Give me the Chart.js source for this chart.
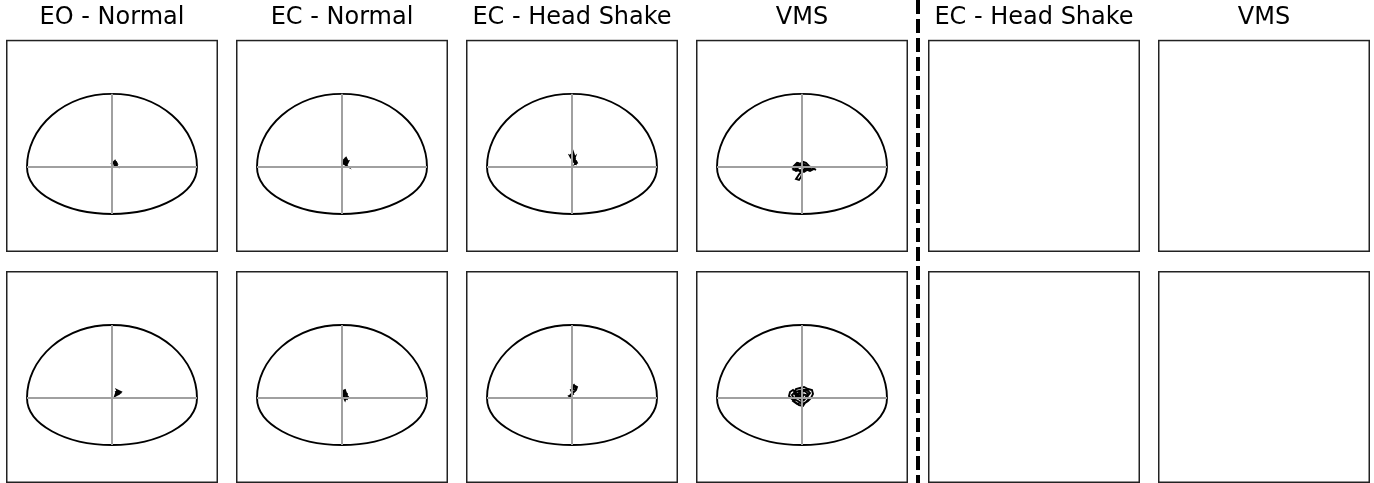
<!DOCTYPE html>
<html>
<head>
<meta charset="utf-8">
<script src="https://cdn.jsdelivr.net/npm/chart.js@4/dist/chart.umd.min.js"></script>
<style>
  body { margin: 0; background: #fff; width: 1374px; height: 483px; position: relative; overflow: hidden; }
  .panel { position: absolute; }
  #sep {
    position: absolute; left: 916px; top: 0; width: 4px; height: 483px;
    background: repeating-linear-gradient(to bottom, #000 0 14px, transparent 14px 19px);
  }
</style>
</head>
<body>
<div id="sep"></div>
<script>
// Títulos de cada columna
const titles = ['EO - Normal', 'EC - Normal', 'EC - Head Shake', 'VMS', 'EC - Head Shake', 'VMS'];

// Límite de estabilidad: [medio ancho, alcance adelante, alcance atrás]
const limits = [85, 73, 47];

// Trayectorias del centro de presión, fila superior
const eoNormalTop = [[2,2],[3,4],[4,3],[3,5],[2,4],[3,2],[4,4],[3,6],[2,5],[4,5],[5,3],[3,3],[2,3],[4,2],[3,1],[2,2]];
const ecNormalTop = [[3,2],[4,5],[2,6],[3,8],[5,7],[4,9],[2,7],[4,4],[6,5],[5,3],[3,4],[2,3],[4,2],[5,5],[3,6],[1,5],[3,3],[5,1],[3,2]];
const ecHeadShakeTop = [[0,13],[1,15],[2,12],[0,10],[-2,11],[-1,9],[1,8],[3,10],[2,7],[4,6],[5,4],[3,3],[4,5],[2,6],[0,8],[-1,12],[1,14],[2,11],[1,9],[3,8],[2,5],[4,3],[5,5]];
const vmsTop = [[0,0],[-4,2],[-7,0],[-9,-2],[-6,-4],[-2,-3],[2,-5],[5,-3],[8,-4],[12,-2],[14,-3],[10,-1],[7,1],[4,4],[1,5],[-2,3],[-5,4],[-8,1],[-5,-1],[-1,1],[3,2],[6,-1],[3,-4],[-1,-5],[-4,-3],[-7,-3],[-3,0],[1,3],[5,1],[8,-2],[4,-2],[0,-3],[-2,-6],[-4,-9],[-6,-12],[-3,-13],[-1,-10],[0,-7],[-2,-4],[-5,-2],[-8,0],[-4,4],[0,2],[4,0],[2,-2]];

// Trayectorias del centro de presión, fila inferior
const eoNormalBottom = [[4,4],[6,6],[5,8],[7,7],[9,6],[7,4],[5,3],[3,2],[4,5],[6,4],[8,5],[6,7],[4,6],[5,4]];
const ecNormalBottom = [[2,4],[1,7],[3,8],[4,5],[2,2],[3,0],[5,-1],[6,1],[4,3],[2,5],[1,2],[3,-2],[4,1],[5,4],[3,6],[2,3]];
const ecHeadShakeBottom = [[1,10],[3,12],[5,11],[4,8],[2,6],[0,5],[-1,3],[-3,2],[-2,1],[0,3],[1,6],[3,7],[4,10],[2,13],[0,11],[2,9],[-1,8],[1,4],[-2,3]];
const vmsBottom = [[0,0],[-5,4],[-9,8],[-12,6],[-13,2],[-10,-1],[-7,-4],[-3,-7],[1,-8],[3,-5],[6,-3],[9,0],[11,4],[10,8],[6,9],[2,11],[-2,10],[-6,9],[-8,5],[-5,1],[-1,-2],[3,0],[6,4],[3,7],[-1,6],[-4,3],[-7,0],[-9,-3],[-5,-6],[-1,-4],[2,-2],[5,1],[8,5],[5,8],[1,8],[-3,7],[-7,6],[-10,3],[-8,-1],[-4,-3],[0,-6],[4,-4],[7,-1],[4,3],[0,4],[-3,1],[-6,2],[-3,5],[1,2],[-1,-1]];

const swayRows = [
    [eoNormalTop, ecNormalTop, ecHeadShakeTop, vmsTop, null, null],
    [eoNormalBottom, ecNormalBottom, ecHeadShakeBottom, vmsBottom, null, null]
];

// Plugin: dibuja el límite de estabilidad (media elipse arriba y abajo) y el marco
const panelDecor = {
    id: 'panelDecor',
    beforeDatasetsDraw(chart) {
        if (!chart.options.plugins.panelDecor.limits) return;
        const ctx = chart.ctx;
        const x = chart.scales.x, y = chart.scales.y;
        const cx = x.getPixelForValue(0), cy = y.getPixelForValue(0);
        const rx = x.getPixelForValue(limits[0]) - cx;
        const rTop = cy - y.getPixelForValue(limits[1]);
        const rBot = y.getPixelForValue(-limits[2]) - cy;
        ctx.save();
        ctx.strokeStyle = '#000';
        ctx.lineWidth = 1.9;
        ctx.beginPath();
        ctx.ellipse(cx, cy, rx, rTop, 0, Math.PI, 2 * Math.PI);
        ctx.ellipse(cx, cy, rx, rBot, 0, 0, Math.PI);
        ctx.closePath();
        ctx.stroke();
        ctx.restore();
    },
    afterDraw(chart) {
        const a = chart.chartArea, ctx = chart.ctx;
        ctx.save();
        ctx.strokeStyle = '#222';
        ctx.lineWidth = 1.5;
        ctx.strokeRect(a.left + 0.75, a.top + 0.75, a.right - a.left - 1.5, a.bottom - a.top - 1.5);
        ctx.restore();
    }
};

function makePanel(row, col) {
    const left = col < 4 ? 6 + 230 * col : 928 + 230 * (col - 4);
    const top = row === 0 ? 0 : 271;
    const h = row === 0 ? 252 : 212;
    const div = document.createElement('div');
    div.className = 'panel';
    div.style.left = left + 'px';
    div.style.top = top + 'px';
    const canvas = document.createElement('canvas');
    canvas.width = 212;
    canvas.height = h;
    div.appendChild(canvas);
    document.body.appendChild(div);

    const sway = swayRows[row][col];
    const datasets = [];
    if (sway) {
        // Cruz gris dentro del límite
        datasets.push({ data: [{x: -limits[0], y: 0}, {x: limits[0], y: 0}], borderColor: '#a0a0a0', borderWidth: 2 });
        datasets.push({ data: [{x: 0, y: limits[1]}, {x: 0, y: -limits[2]}], borderColor: '#a0a0a0', borderWidth: 2 });
        datasets.push({ data: sway.map(p => ({x: p[0], y: p[1]})), borderColor: '#000', borderWidth: 1.9 });
    }

    new Chart(canvas, {
        type: 'scatter',
        data: { datasets: datasets.map(d => Object.assign({ showLine: true, pointRadius: 0, tension: 0, fill: false }, d)) },
        options: {
            responsive: false,
            animation: false,
            events: [],
            layout: { padding: 0 },
            scales: {
                x: { display: false, min: -106, max: 106 },
                y: { display: false, min: -85, max: 127 }
            },
            plugins: {
                legend: { display: false },
                tooltip: { enabled: false },
                panelDecor: { limits: !!sway },
                title: {
                    display: row === 0,
                    text: titles[col],
                    color: '#000',
                    font: { family: "'DejaVu Sans'", size: 24, weight: 'normal' },
                    padding: { top: 3, bottom: 8 }
                }
            }
        },
        plugins: [panelDecor]
    });
}

for (let r = 0; r < 2; r++) {
    for (let c = 0; c < 6; c++) makePanel(r, c);
}
</script>
</body>
</html>
